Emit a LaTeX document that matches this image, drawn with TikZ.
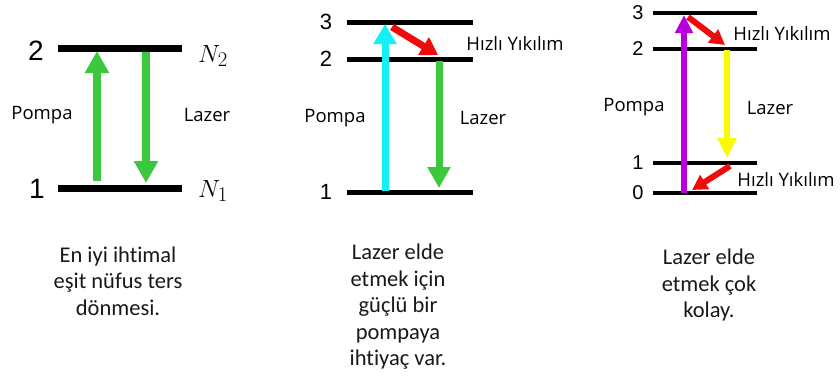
\documentclass[tikz,border=0pt]{standalone}
\usepackage{fontspec}
\setmainfont{Carlito}[Ligatures={NoCommon}]
\newfontfamily\lblfont{Open Sans}
\newfontfamily\digfont{Liberation Sans}
\usetikzlibrary{arrows.meta}
\definecolor{lasgreen}{RGB}{60,200,60}
\definecolor{pumpcyan}{RGB}{20,240,245}
\definecolor{decayred}{RGB}{240,10,10}
\definecolor{pumppurple}{RGB}{185,0,220}
\definecolor{lasyellow}{RGB}{250,250,0}
\definecolor{captext}{RGB}{25,25,25}
\tikzset{
  level/.style={line width=#1, black},
  bigarrow/.style n args={4}{draw=#1, line width=#2,
     -{Triangle[width=#3pt,length=#4pt,fill=#1]}},
  lbl/.style={font=\lblfont\fontsize{18.5}{21}\selectfont, inner sep=0},
  digit/.style={font=\digfont\fontsize{#1}{#1}\selectfont, inner sep=0},
  popn/.style={inner sep=0, font=\fontsize{31}{31}\selectfont},
  caption/.style={font=\fontsize{22.5}{26.5}\selectfont, align=center,
     inner sep=0, text=captext},
}
\begin{document}
\begin{tikzpicture}[x=1pt,y=-1pt]
\useasboundingbox[fill=white] (0,0) rectangle (840,380);

% ---------- two-level system ----------
\draw[level=7pt] (58,48) -- (182,48);
\draw[level=7pt] (58,188) -- (182,188);
\node[digit=28] (a2) at (36,51) {2};
\node[digit=28] (a1) at (37,189) {1};
\node[popn] (aN2) at (213,56) {$N_2$};
\node[popn] (aN1) at (213,191) {$N_1$};
\coordinate (apb) at (97,181);
\coordinate (apt) at (97,51);
\coordinate (alt) at (146,52);
\coordinate (alb) at (146,183);
\draw[bigarrow={lasgreen}{8pt}{23}{22}] (apb) -- (apt);
\draw[bigarrow={lasgreen}{8pt}{23}{22}] (alt) -- (alb);
\node[lbl] (apump) at (42,115) {Pompa};
\node[lbl] (alas) at (207,115) {Lazer};

% ---------- three-level system ----------
\draw[level=5pt] (347,22) -- (473,22);
\draw[level=5pt] (347,59) -- (473,59);
\draw[level=5pt] (347,192) -- (473,192);
\node[digit=22] (b3) at (326,22) {3};
\node[digit=22] (b2) at (326,59) {2};
\node[digit=22] (b1) at (326,192) {1};
\coordinate (bpb) at (385,191);
\coordinate (bpt) at (385,24);
\coordinate (bdt) at (392,27);
\coordinate (bdb) at (438,55);
\coordinate (blt) at (439,61);
\coordinate (blb) at (439,188);
\draw[bigarrow={pumpcyan}{7pt}{22}{20}] (bpb) -- (bpt);
\draw[bigarrow={decayred}{7pt}{20}{17}] (bdt) -- (bdb);
\draw[bigarrow={lasgreen}{7pt}{22}{21}] (blt) -- (blb);
\node[lbl] (bfast) at (515,43) {Hızlı Yıkılım};
\node[lbl] (bpump) at (335,118) {Pompa};
\node[lbl] (blas) at (483,118) {Lazer};

% ---------- four-level system ----------
\draw[level=4.5pt] (653,13) -- (757,13);
\draw[level=4.5pt] (653,49) -- (757,49);
\draw[level=4.5pt] (653,163) -- (757,163);
\draw[level=4.5pt] (653,193) -- (757,193);
\node[digit=20] (c3) at (638,13) {3};
\node[digit=20] (c2) at (638,49) {2};
\node[digit=20] (c1) at (638,163) {1};
\node[digit=20] (c0) at (638,193) {0};
\coordinate (cpb) at (684,193);
\coordinate (cpt) at (684,15);
\coordinate (cd1t) at (688,17);
\coordinate (cd1b) at (725,45);
\coordinate (clt) at (727,50);
\coordinate (clb) at (727,158);
\coordinate (cd2t) at (730,166);
\coordinate (cd2b) at (692,190);
\draw[bigarrow={pumppurple}{6pt}{17}{18}] (cpb) -- (cpt);
\draw[bigarrow={decayred}{6pt}{16}{15}] (cd1t) -- (cd1b);
\draw[bigarrow={lasyellow}{6pt}{18}{20}] (clt) -- (clb);
\draw[bigarrow={decayred}{6pt}{16}{15}] (cd2t) -- (cd2b);
\node[lbl] (cfast1) at (782,33) {Hızlı Yıkılım};
\node[lbl] (cfast2) at (786,179) {Hızlı Yıkılım};
\node[lbl] (cpump) at (634,107) {Pompa};
\node[lbl] (clas) at (770,108) {Lazer};

% ---------- captions ----------
\node[caption] (capa) at (118,281) {En iyi ihtimal\\eşit nüfus ters\\dönmesi.};
\node[caption] (capb) at (398,307) {Lazer elde\\etmek için\\güçlü bir\\pompaya\\ihtiyaç var.};
\node[caption] (capc) at (709,285) {Lazer elde\\etmek çok\\kolay.};
\end{tikzpicture}
\end{document}
